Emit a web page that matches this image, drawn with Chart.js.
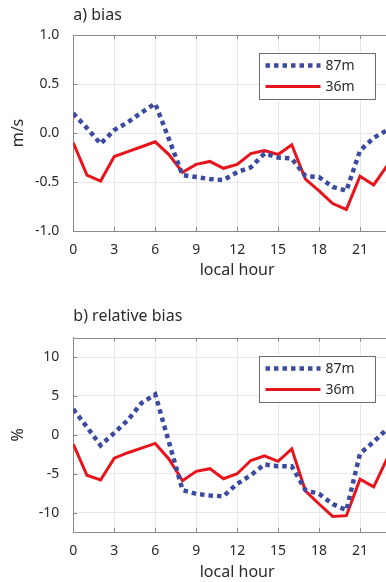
<!DOCTYPE html>
<html>
<head>
<meta charset="utf-8">
<script src="https://cdn.jsdelivr.net/npm/chart.js"></script>
<style>
  html, body { margin: 0; padding: 0; background: #fff; }
  #wrap { position: relative; width: 386px; height: 582px; overflow: hidden; }
  canvas { position: absolute; left: 0; }
</style>
</head>
<body>
<div id="wrap">
  <canvas id="biasChart" width="420" height="301" style="top:0"></canvas>
  <canvas id="relChart" width="420" height="281" style="top:301px"></canvas>
</div>
<script>
// local hour of day
var hours = [0, 1, 2, 3, 4, 5, 6, 7, 8, 9, 10, 11, 12, 13, 14, 15, 16, 17, 18, 19, 20, 21, 22, 23];

// wind speed bias (m/s)
var bias87 = [0.20, 0.05, -0.11, 0.03, 0.11, 0.21, 0.30, -0.06, -0.43, -0.45, -0.47, -0.48,
              -0.40, -0.35, -0.21, -0.25, -0.26, -0.44, -0.45, -0.55, -0.59, -0.18, -0.05, 0.03];
var bias36 = [-0.10, -0.43, -0.49, -0.24, -0.19, -0.14, -0.09, -0.22, -0.40, -0.32, -0.29, -0.36,
              -0.32, -0.21, -0.18, -0.22, -0.12, -0.47, -0.59, -0.72, -0.78, -0.44, -0.53, -0.33];

// relative bias (%)
var rel87 = [3.3, 1.0, -1.35, 0.25, 1.9, 4.1, 5.2, -0.9, -7.1, -7.6, -7.8, -7.9,
             -6.3, -5.2, -3.8, -4.05, -4.05, -7.1, -7.6, -8.9, -9.7, -2.4, -0.9, 0.8];
var rel36 = [-1.2, -5.2, -5.8, -3.0, -2.3, -1.7, -1.1, -3.1, -5.9, -4.7, -4.35, -5.65,
             -5.0, -3.3, -2.7, -3.4, -1.8, -7.2, -8.9, -10.5, -10.4, -5.7, -6.7, -3.0];

var xTicks = [0, 3, 6, 9, 12, 15, 18, 21, 24];
var biasTicks = [-1, -0.5, 0, 0.5, 1];
var relTicks = [-10, -5, 0, 5, 10];

var FONT = '"Noto Sans", "DejaVu Sans", sans-serif';
var TEXT = '#2b2b2b';
var AXIS = '#8a8a8a';
var GRID = '#e8e8e8';
var BLUE = '#3c4b9f';
var RED = '#e8141c';

function points(vals) {
    return hours.map(function (h, i) { return {x: h, y: vals[i]}; });
}

function fixedTicks(list) {
    return function (s) {
        s.ticks = list.map(function (v) { return {value: v}; });
    };
}

// box on top + small inward tick marks
var framePlugin = {
    id: 'frame',
    afterDraw: function (chart) {
        var ctx = chart.ctx, a = chart.chartArea;
        var xs = chart.scales.x, ys = chart.scales.y;
        ctx.save();
        ctx.strokeStyle = AXIS;
        ctx.lineWidth = 1;
        ctx.beginPath();
        ctx.moveTo(a.left, Math.round(a.top) + 0.5);
        ctx.lineTo(a.right, Math.round(a.top) + 0.5);
        xs.ticks.forEach(function (t) {
            var px = Math.round(xs.getPixelForValue(t.value)) + 0.5;
            ctx.moveTo(px, a.top);
            ctx.lineTo(px, a.top + 4);
            ctx.moveTo(px, a.bottom);
            ctx.lineTo(px, a.bottom - 4);
        });
        ys.ticks.forEach(function (t) {
            var py = Math.round(ys.getPixelForValue(t.value)) + 0.5;
            ctx.moveTo(a.left, py);
            ctx.lineTo(a.left + 4, py);
        });
        ctx.stroke();
        ctx.restore();
    }
};

// legend box inside the plot area
var boxLegend = {
    id: 'boxLegend',
    afterDraw: function (chart) {
        var ctx = chart.ctx, a = chart.chartArea;
        var bx = Math.round(a.left + 186) + 0.5, by = Math.round(a.top + 18) + 0.5;
        var bw = 116, bh = 46;
        ctx.save();
        ctx.fillStyle = '#fff';
        ctx.fillRect(bx, by, bw, bh);
        ctx.strokeStyle = '#6e6e6e';
        ctx.lineWidth = 1;
        ctx.strokeRect(bx, by, bw, bh);
        chart.data.datasets.forEach(function (ds, i) {
            var ly = by + 12 + i * 21;
            ctx.beginPath();
            ctx.strokeStyle = ds.borderColor;
            ctx.lineWidth = ds.borderWidth;
            ctx.setLineDash(ds.borderDash || []);
            ctx.lineCap = 'butt';
            ctx.moveTo(bx + 6, ly);
            ctx.lineTo(bx + 61, ly);
            ctx.stroke();
            ctx.setLineDash([]);
            ctx.fillStyle = TEXT;
            ctx.font = '14px ' + FONT;
            ctx.textBaseline = 'middle';
            ctx.fillText(ds.label, bx + 66, ly + 1);
        });
        ctx.restore();
    }
};

function makeChart(id, title, yTitle, v87, v36, ymin, ymax, yTicks, lay) {
    return new Chart(document.getElementById(id), {
        type: 'line',
        data: {
            datasets: [
                {
                    label: '87m',
                    data: points(v87),
                    borderColor: BLUE,
                    borderWidth: 4.5,
                    borderDash: [4.5, 4],
                    borderCapStyle: 'butt',
                    pointRadius: 0,
                    tension: 0
                },
                {
                    label: '36m',
                    data: points(v36),
                    borderColor: RED,
                    borderWidth: 3,
                    pointRadius: 0,
                    tension: 0
                }
            ]
        },
        options: {
            responsive: false,
            animation: false,
            layout: { padding: { left: 0, right: 12.7, top: 0, bottom: 0 } },
            scales: {
                x: {
                    type: 'linear',
                    min: 0,
                    max: 24,
                    afterBuildTicks: fixedTicks(xTicks),
                    ticks: { font: { family: FONT, size: 14 }, color: TEXT, padding: 11, maxRotation: 0 },
                    grid: { color: GRID, drawTicks: false },
                    border: { color: AXIS },
                    title: {
                        display: true,
                        text: 'local hour',
                        color: TEXT,
                        font: { family: FONT, size: 16 },
                        padding: { top: lay.xtTop, bottom: lay.xtBottom }
                    }
                },
                y: {
                    min: ymin,
                    max: ymax,
                    afterBuildTicks: fixedTicks(yTicks),
                    afterFit: function (s) { s.width = 73.3; },
                    ticks: {
                        font: { family: FONT, size: 14 },
                        color: TEXT,
                        padding: 14,
                        callback: lay.fmt
                    },
                    grid: { color: GRID, drawTicks: false },
                    border: { color: AXIS },
                    title: {
                        display: true,
                        text: yTitle,
                        color: TEXT,
                        font: { family: FONT, size: 16 },
                        padding: { top: 9, bottom: 0 }
                    }
                }
            },
            plugins: {
                legend: { display: false },
                tooltip: { enabled: false },
                title: {
                    display: true,
                    text: title,
                    align: 'start',
                    fullSize: false,
                    color: TEXT,
                    font: { family: FONT, size: 16, weight: 'normal' },
                    padding: { top: lay.tTop, bottom: lay.tBottom }
                }
            }
        },
        plugins: [framePlugin, boxLegend]
    });
}

var biasChart = makeChart('biasChart', 'a) bias', 'm/s', bias87, bias36, -1, 1, biasTicks, {
    tTop: 5.4, tBottom: 10.4, xtTop: -8.7, xtBottom: 20.7,
    fmt: function (v) { return v.toFixed(1); }
});

var relChart = makeChart('relChart', 'b) relative bias', '%', rel87, rel36, -12.5, 12.5, relTicks, {
    tTop: 6.1, tBottom: 11.4, xtTop: -8, xtBottom: 0,
    fmt: function (v) { return String(v); }
});
</script>
</body>
</html>
